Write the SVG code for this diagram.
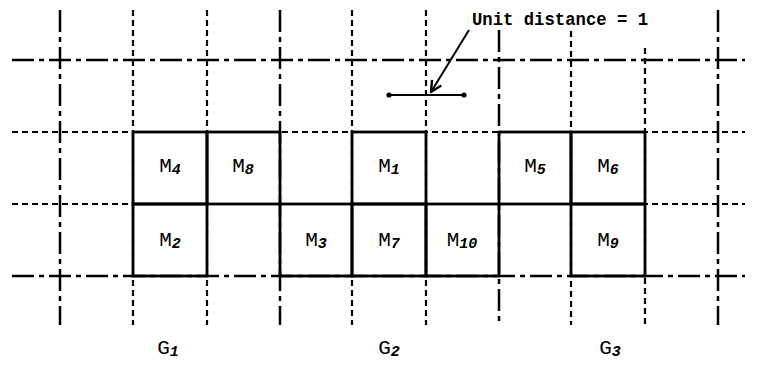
<svg xmlns="http://www.w3.org/2000/svg" width="757" height="365" viewBox="0 0 757 365">
<style>
.bg{fill:#fff}
.dd{stroke:#000;stroke-width:2.5;fill:none;stroke-dasharray:22 5 5 5}
.sd{stroke:#000;stroke-width:2.2;fill:none;stroke-dasharray:6 4}
.cell rect{fill:none;stroke:#000;stroke-width:2.8}
text{font-family:"Liberation Mono","DejaVu Sans Mono",monospace;fill:#000}
.lbl{font-size:21px;text-anchor:middle}
.sub{font-size:15px;font-style:italic;font-weight:bold}
.unit{stroke:#000;stroke-width:2;fill:none}
</style>
<defs>
<marker id="ah" viewBox="0 0 12 12" refX="11" refY="6" markerWidth="13" markerHeight="13" markerUnits="userSpaceOnUse" orient="auto">
<path d="M1,1 L11,6 L1,11" fill="none" stroke="#000" stroke-width="2.2"/>
</marker>
</defs>
<rect class="bg" x="0" y="0" width="757" height="365"/>
<g id="grid">
<line class="dd" x1="12" y1="60" x2="745" y2="60"/>
<line class="sd" x1="12" y1="132" x2="745" y2="132"/>
<line class="sd" x1="12" y1="204" x2="745" y2="204"/>
<line class="dd" x1="12" y1="276" x2="745" y2="276"/>
<line class="dd" x1="60" y1="10" x2="60" y2="325"/>
<line class="sd" x1="133" y1="10" x2="133" y2="325"/>
<line class="sd" x1="207" y1="10" x2="207" y2="325"/>
<line class="dd" x1="280" y1="10" x2="280" y2="325"/>
<line class="sd" x1="352" y1="10" x2="352" y2="325"/>
<line class="sd" x1="426" y1="10" x2="426" y2="325"/>
<line class="dd" x1="499" y1="30" x2="499" y2="325"/>
<line class="sd" x1="571" y1="31" x2="571" y2="325"/>
<line class="sd" x1="645" y1="48" x2="645" y2="325"/>
<line class="dd" x1="718" y1="10" x2="718" y2="325"/>
</g>
<g id="M4" class="cell"><rect x="133" y="132" width="74" height="72"/><text class="lbl" x="170" y="172">M<tspan class="sub" dy="2">4</tspan></text></g>
<g id="M8" class="cell"><rect x="207" y="132" width="73" height="72"/><text class="lbl" x="243" y="172">M<tspan class="sub" dy="2">8</tspan></text></g>
<g id="M1" class="cell"><rect x="352" y="132" width="74" height="72"/><text class="lbl" x="389" y="172">M<tspan class="sub" dy="2">1</tspan></text></g>
<g id="M5" class="cell"><rect x="499" y="132" width="72" height="72"/><text class="lbl" x="535" y="172">M<tspan class="sub" dy="2">5</tspan></text></g>
<g id="M6" class="cell"><rect x="571" y="132" width="74" height="72"/><text class="lbl" x="608" y="172">M<tspan class="sub" dy="2">6</tspan></text></g>
<g id="M2" class="cell"><rect x="133" y="204" width="74" height="72"/><text class="lbl" x="170" y="246">M<tspan class="sub" dy="2">2</tspan></text></g>
<g id="M3" class="cell"><rect x="280" y="204" width="72" height="72"/><text class="lbl" x="316" y="246">M<tspan class="sub" dy="2">3</tspan></text></g>
<g id="M7" class="cell"><rect x="352" y="204" width="74" height="72"/><text class="lbl" x="389" y="246">M<tspan class="sub" dy="2">7</tspan></text></g>
<g id="M10" class="cell"><rect x="426" y="204" width="73" height="72"/><text class="lbl" x="462" y="246">M<tspan class="sub" dy="2">10</tspan></text></g>
<g id="M9" class="cell"><rect x="571" y="204" width="74" height="72"/><text class="lbl" x="608" y="246">M<tspan class="sub" dy="2">9</tspan></text></g>
<g id="groups">
<text class="lbl" x="168" y="354">G<tspan class="sub" dy="2">1</tspan></text>
<text class="lbl" x="389" y="354">G<tspan class="sub" dy="2">2</tspan></text>
<text class="lbl" x="610" y="354">G<tspan class="sub" dy="2">3</tspan></text>
</g>
<g id="unit">
<text x="472" y="25" font-size="18" font-weight="bold" textLength="176" lengthAdjust="spacingAndGlyphs">Unit distance = 1</text>
<line class="unit" x1="389" y1="95" x2="464" y2="95"/>
<circle cx="389" cy="95" r="2.6"/>
<circle cx="464" cy="95" r="2.6"/>
</g>
<g id="connectors">
<line class="unit" x1="469" y1="30" x2="431" y2="92" marker-end="url(#ah)"/>
</g>
</svg>
